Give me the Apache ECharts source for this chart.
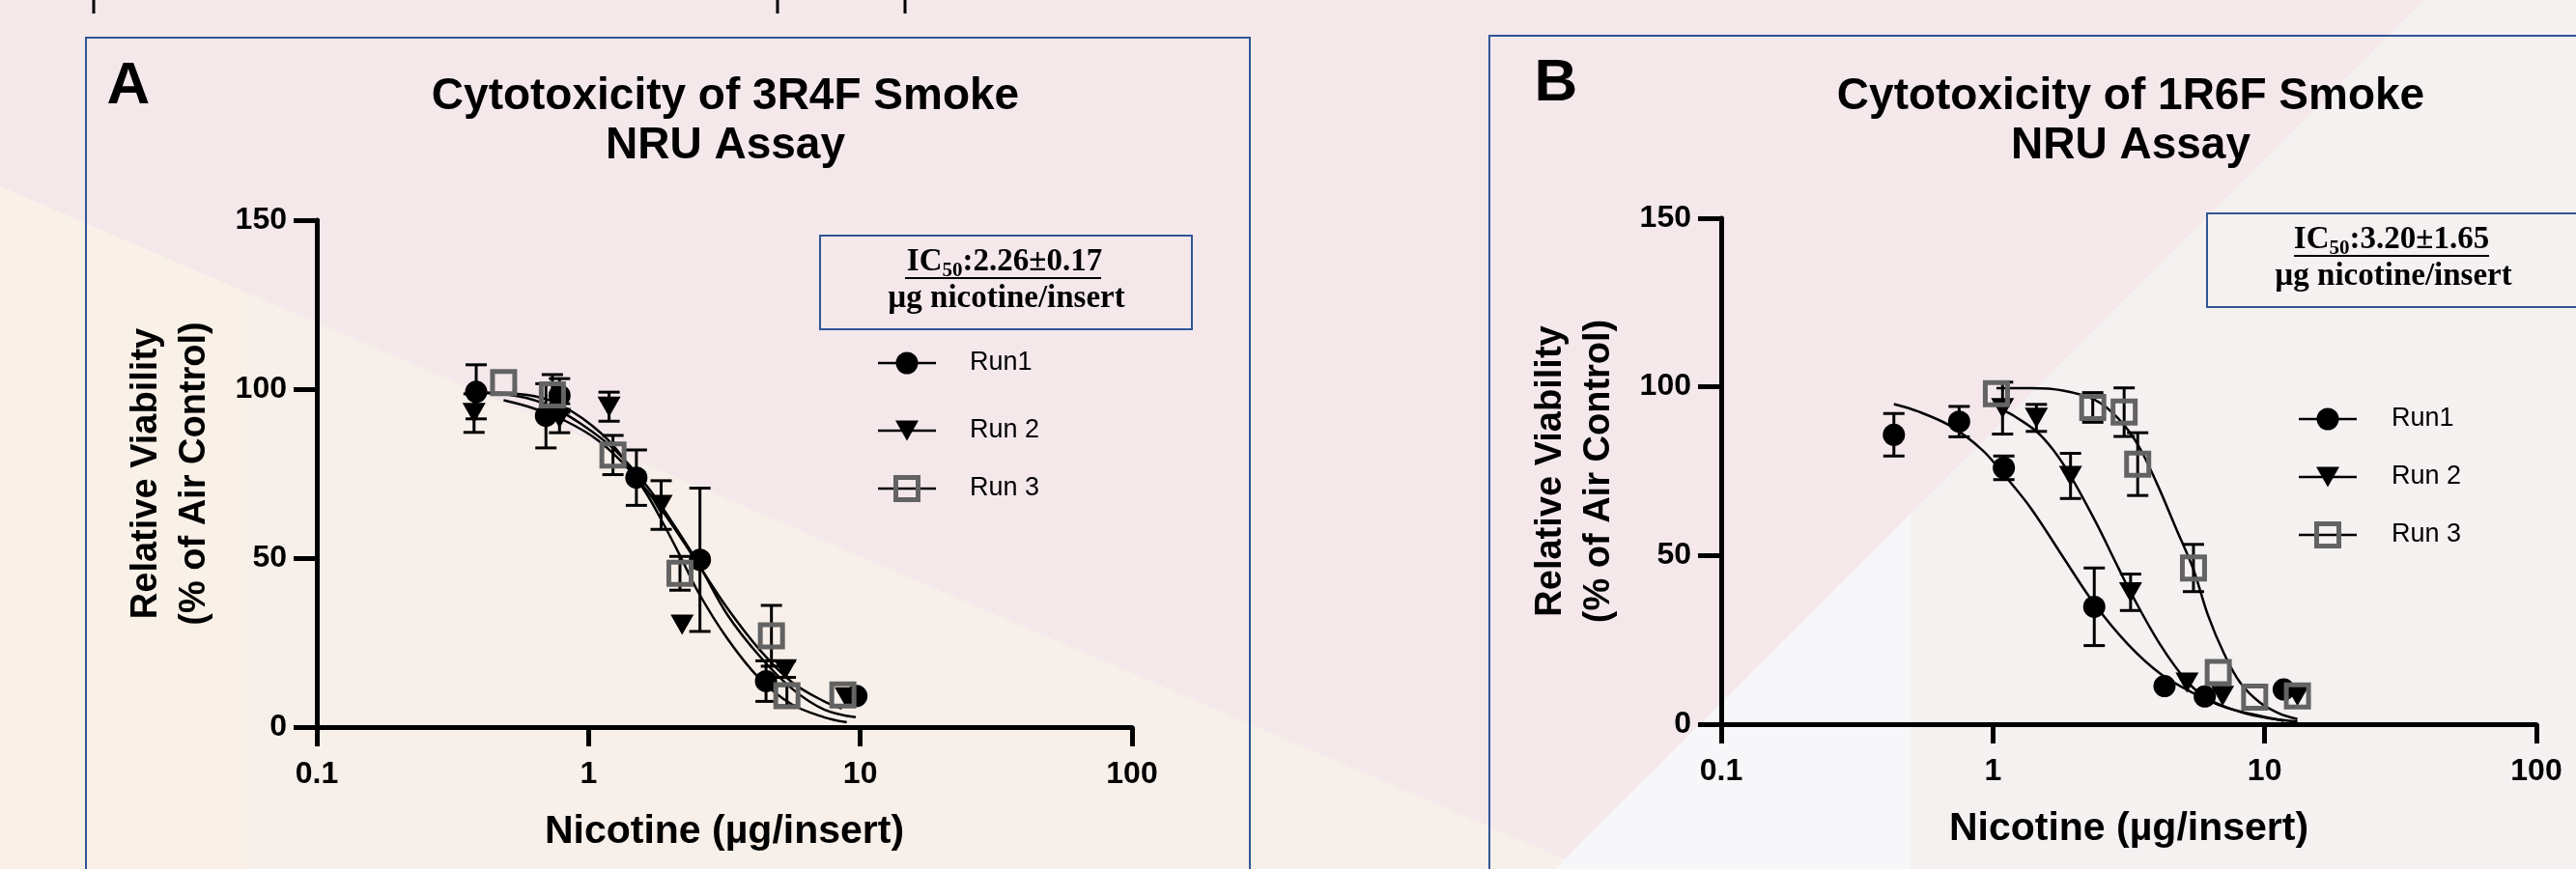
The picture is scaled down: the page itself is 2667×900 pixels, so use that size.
<!DOCTYPE html>
<html>
<head>
<meta charset="utf-8">
<script src="https://cdn.jsdelivr.net/npm/echarts@6/dist/echarts.min.js"></script>
<style>
  html, body { margin: 0; padding: 0; }
  #main { width: 2667px; height: 900px; }
</style>
</head>
<body>
<div id="main"></div>
<script>
// values (dose in µg nicotine/insert, viability in % of air control)
const xTicks = [0.1, 1, 10, 100];
const yTicks = [0, 50, 100, 150];

// panel A: 3R4F
const doseA1 = [0.386, 0.697, 0.782, 1.5, 2.57, 4.5, 9.68];
const viabA1 = [99.2, 92.1, 98.1, 73.8, 49.5, 13.6, 9.2];
const semA1 = [8, 9.5, 5, 8.2, 21.2, 6, 0];
const doseA2 = [0.379, 0.782, 1.19, 1.85, 2.21, 5.3, 8.87];
const viabA2 = [92.9, 91.4, 94.8, 65.7, 30.3, 17.1, 8.8];
const semA2 = [5.7, 4.3, 4.3, 7.2, 0, 2.4, 0];
const doseA3 = [0.487, 0.736, 1.23, 2.17, 4.71, 5.37, 8.63];
const viabA3 = [101.9, 98.3, 80.5, 45.5, 27.0, 9.3, 9.5];
const semA3 = [0, 6, 5.8, 5, 9, 3, 0];

// fitted curves, panel A
const fitXA1 = [0.386, 0.548, 0.72, 0.947, 1.245, 1.636, 2.15, 2.57, 3.24, 4.26, 5.6, 7.36, 9.62];
const fitYA1 = [99.0, 97.9, 95.0, 89.5, 82.1, 71.4, 57.6, 47.6, 33.3, 21.0, 11.4, 5.2, 2.9];
const fitXA2 = [0.379, 0.548, 0.72, 0.947, 1.245, 1.636, 1.876, 2.15, 2.53, 3.24, 4.26, 5.6, 7.36, 8.92];
const fitYA2 = [99.0, 98.6, 96.7, 91.4, 82.9, 69.0, 60.5, 51.4, 40.0, 26.2, 14.3, 6.7, 2.9, 1.4];
const fitXA3 = [0.487, 0.628, 0.826, 1.085, 1.43, 1.876, 2.47, 3.24, 4.26, 5.6, 7.36, 8.55];
const fitYA3 = [96.7, 94.3, 90.5, 84.8, 75.7, 63.8, 49.5, 35.2, 22.9, 13.3, 7.6, 5.5];

// panel B: 1R6F
const doseB1 = [0.432, 0.751, 1.097, 2.36, 4.28, 6.02, 11.75];
const viabB1 = [85.8, 89.7, 76.0, 34.8, 11.3, 8.2, 10.3];
const semB1 = [6.3, 4.5, 3.5, 11.5, 0, 0, 0];
const doseB2 = [1.085, 1.445, 1.93, 3.21, 5.18, 7.0, 13.2];
const viabB2 = [93.7, 90.8, 73.6, 39.1, 12.3, 8.4, 8.4];
const semB2 = [7.7, 4, 6.7, 5.4, 0, 0, 0];
const doseB3 = [1.03, 2.33, 3.04, 3.41, 5.47, 6.75, 9.19, 13.2];
const viabB3 = [98.0, 93.9, 92.5, 77.1, 46.3, 15.3, 8.0, 8.4];
const semB3 = [0, 4.4, 7.2, 9.3, 7, 0, 0, 0];

// fitted curves, panel B
const fitXB1 = [0.432, 0.531, 0.698, 0.916, 1.097, 1.38, 1.81, 2.36, 3.13, 4.11, 5.4, 7.09, 9.31, 11.75];
const fitYB1 = [94.9, 92.7, 88.4, 81.2, 74.0, 64.0, 49.6, 35.7, 23.8, 15.1, 9.4, 5.1, 2.7, 1.0];
const fitXB2 = [1.085, 1.2, 1.445, 1.67, 1.93, 2.38, 2.88, 3.21, 4.11, 5.18, 6.18, 8.13, 10.4, 13.2];
const fitYB2 = [93.2, 91.3, 86.8, 81.2, 73.6, 60.2, 46.7, 39.1, 23.8, 12.7, 7.5, 3.6, 1.7, 0.8];
const fitXB3 = [1.03, 1.38, 1.81, 2.38, 2.88, 3.4, 4.0, 4.71, 5.47, 6.18, 7.09, 8.13, 9.57, 11.3, 13.2];
const fitYB3 = [99.6, 99.6, 98.9, 96.1, 90.8, 83.1, 71.6, 58.2, 45.8, 32.4, 20.9, 12.3, 6.5, 3.2, 1.5];

const runNames = ['Run1', 'Run 2', 'Run 3'];

const SANS = 'Liberation Sans, Arial, sans-serif';
const SERIF = 'Liberation Serif, Times New Roman, serif';
const FRAME = '#2f5597';
const GREY = '#636363';

const markers = [
  { symbol: 'circle', symbolSize: 23, itemStyle: { color: '#000', opacity: 1 } },
  { symbol: 'triangle', symbolSize: [24, 21], symbolRotate: 180, itemStyle: { color: '#000', opacity: 1 } },
  { symbol: 'rect', symbolSize: 23, itemStyle: { color: 'rgba(0,0,0,0)', borderColor: GREY, borderWidth: 5, opacity: 1 } },
];

function errorBars(idx, dose, viab, sem) {
  const data = [];
  dose.forEach((d, i) => {
    if (sem[i] > 0) data.push([d, viab[i] - sem[i], viab[i] + sem[i]]);
  });
  return {
    type: 'custom',
    xAxisIndex: idx,
    yAxisIndex: idx,
    z: 3,
    silent: true,
    data,
    encode: { x: 0, y: [1, 2] },
    renderItem(params, api) {
      const top = api.coord([api.value(0), api.value(2)]);
      const bot = api.coord([api.value(0), api.value(1)]);
      const style = { stroke: '#000', lineWidth: 3 };
      const w = 11;
      return {
        type: 'group',
        children: [
          { type: 'line', shape: { x1: top[0], y1: top[1], x2: bot[0], y2: bot[1] }, style },
          { type: 'line', shape: { x1: top[0] - w, y1: top[1], x2: top[0] + w, y2: top[1] }, style },
          { type: 'line', shape: { x1: bot[0] - w, y1: bot[1], x2: bot[0] + w, y2: bot[1] }, style },
        ],
      };
    },
  };
}

function runSeries(idx, run, dose, viab, sem, fitX, fitY) {
  const m = markers[run];
  return [
    {
      type: 'line',
      name: runNames[run] + ' fit',
      xAxisIndex: idx,
      yAxisIndex: idx,
      data: fitX.map((x, i) => [x, fitY[i]]),
      smooth: 0.35,
      showSymbol: false,
      silent: true,
      z: 2,
      lineStyle: { color: '#000', width: 2.5 },
    },
    errorBars(idx, dose, viab, sem),
    {
      type: 'scatter',
      name: runNames[run],
      xAxisIndex: idx,
      yAxisIndex: idx,
      data: dose.map((d, i) => [d, viab[i]]),
      symbol: m.symbol,
      symbolSize: m.symbolSize,
      symbolRotate: m.symbolRotate || 0,
      itemStyle: m.itemStyle,
      emphasis: { disabled: true },
      z: 4,
    },
  ];
}

function xAxisFor(idx) {
  return {
    type: 'log',
    logBase: 10,
    gridIndex: idx,
    min: xTicks[0],
    max: xTicks[xTicks.length - 1],
    name: 'Nicotine (µg/insert)',
    nameLocation: 'middle',
    nameGap: 88,
    nameTextStyle: { fontSize: 41, fontWeight: 'bold', fontFamily: SANS, color: '#000', lineHeight: 41 },
    axisLine: { lineStyle: { color: '#000', width: 5 } },
    axisTick: { length: 20, lineStyle: { width: 5 } },
    axisLabel: { fontSize: 32, fontWeight: 'bold', fontFamily: SANS, color: '#000', margin: 33 },
    minorTick: { show: false },
    splitLine: { show: false },
  };
}

function yAxisFor(idx) {
  return {
    type: 'value',
    gridIndex: idx,
    min: yTicks[0],
    max: yTicks[yTicks.length - 1],
    interval: 50,
    name: 'Relative Viability\n(% of Air Control)',
    nameLocation: 'middle',
    nameRotate: 90,
    nameGap: 101,
    nameTextStyle: { fontSize: 38, fontWeight: 'bold', fontFamily: SANS, color: '#000', lineHeight: 50 },
    axisLine: { show: true, lineStyle: { color: '#000', width: 5 } },
    axisTick: { show: true, length: 24, lineStyle: { width: 5 } },
    axisLabel: { fontSize: 32, fontWeight: 'bold', fontFamily: SANS, color: '#000', margin: 31 },
    splitLine: { show: false },
  };
}

function legendGraphics(x0, ys, textX) {
  const els = [];
  ys.forEach((y, run) => {
    els.push({ type: 'line', shape: { x1: x0 - 30, y1: y, x2: x0 + 30, y2: y }, style: { stroke: '#000', lineWidth: 2.5 } });
    if (run === 0) {
      els.push({ type: 'circle', shape: { cx: x0, cy: y, r: 11.5 }, style: { fill: '#000' } });
    } else if (run === 1) {
      els.push({ type: 'polygon', shape: { points: [[x0 - 12, y - 10.5], [x0 + 12, y - 10.5], [x0, y + 10.5]] }, style: { fill: '#000' } });
    } else {
      els.push({ type: 'rect', shape: { x: x0 - 11.5, y: y - 11.5, width: 23, height: 23 }, style: { fill: 'none', stroke: GREY, lineWidth: 5 } });
    }
    els.push({
      type: 'text', x: textX, y,
      style: { text: runNames[run], font: '27px ' + SANS, fill: '#000', textAlign: 'left', textVerticalAlign: 'middle' },
    });
  });
  return els;
}

function icBox(left, top, width, cx, ic50, underX1, underX2) {
  return [
    { type: 'rect', shape: { x: left, y: top, width, height: 97 }, style: { fill: 'none', stroke: FRAME, lineWidth: 2 } },
    {
      type: 'text', x: cx, y: top + 27,
      style: {
        text: '{a|IC}{b|50}{a|:' + ic50 + '}',
        textAlign: 'center',
        textVerticalAlign: 'middle',
        rich: {
          a: { fontSize: 33, fontWeight: 'bold', fontFamily: SERIF, color: '#000', lineHeight: 40 },
          b: { fontSize: 21, fontWeight: 'bold', fontFamily: SERIF, color: '#000', lineHeight: 16, verticalAlign: 'bottom' },
        },
      },
    },
    { type: 'line', shape: { x1: underX1, y1: top + 44, x2: underX2, y2: top + 44 }, style: { stroke: '#000', lineWidth: 2 } },
    {
      type: 'text', x: cx + 2, y: top + 65,
      style: { text: 'µg nicotine/insert', font: 'bold 33px ' + SERIF, fill: '#000', textAlign: 'center', textVerticalAlign: 'middle' },
    },
  ];
}

const background = [
  { type: 'polygon', z: -10, silent: true, shape: { points: [[0, 193], [1644, 900], [0, 900]] }, style: { fill: '#f7efe9' } },
  { type: 'polygon', z: -9, silent: true, shape: { points: [[0, 193], [255, 303], [255, 900], [0, 900]] }, style: { fill: '#f9f1e8' } },
  { type: 'polygon', z: -9, silent: true, shape: { points: [[1610, 900], [2510, 0], [2667, 0], [2667, 900]] }, style: { fill: '#f5f1f1' } },
  { type: 'polygon', z: -8, silent: true, shape: { points: [[1610, 900], [1978, 532], [1978, 900]] }, style: { fill: '#f7f6f9' } },
];

const frames = [
  { type: 'rect', shape: { x: 89, y: 39, width: 1205, height: 900 }, style: { fill: 'none', stroke: FRAME, lineWidth: 2 } },
  { type: 'rect', shape: { x: 1542, y: 37, width: 1200, height: 900 }, style: { fill: 'none', stroke: FRAME, lineWidth: 2 } },
  // stubs of the figure above, cut by the page edge
  { type: 'line', shape: { x1: 97, y1: 0, x2: 97, y2: 14 }, style: { stroke: '#000', lineWidth: 3 } },
  { type: 'line', shape: { x1: 805, y1: 0, x2: 805, y2: 14 }, style: { stroke: '#000', lineWidth: 3 } },
  { type: 'line', shape: { x1: 937, y1: 0, x2: 937, y2: 14 }, style: { stroke: '#000', lineWidth: 3 } },
];

const chart = echarts.init(document.getElementById('main'));

const option = {
  animation: false,
  backgroundColor: '#f4e8ea',
  title: [
    { text: 'A', left: 133, top: 58, textAlign: 'center', padding: 0, textStyle: { fontSize: 62, fontWeight: 'bold', fontFamily: SANS, color: '#000', lineHeight: 64 } },
    { text: 'B', left: 1611, top: 55, textAlign: 'center', padding: 0, textStyle: { fontSize: 62, fontWeight: 'bold', fontFamily: SANS, color: '#000', lineHeight: 64 } },
    { text: 'Cytotoxicity of 3R4F Smoke\nNRU Assay', left: 751, top: 75, textAlign: 'center', padding: 0, textStyle: { fontSize: 46, fontWeight: 'bold', fontFamily: SANS, color: '#000', lineHeight: 51 } },
    { text: 'Cytotoxicity of 1R6F Smoke\nNRU Assay', left: 2206, top: 75, textAlign: 'center', padding: 0, textStyle: { fontSize: 46, fontWeight: 'bold', fontFamily: SANS, color: '#000', lineHeight: 51 } },
  ],
  grid: [
    { left: 328, top: 228, width: 844, height: 525 },
    { left: 1782, top: 226, width: 844, height: 524 },
  ],
  xAxis: [xAxisFor(0), xAxisFor(1)],
  yAxis: [yAxisFor(0), yAxisFor(1)],
  series: [
    ...runSeries(0, 0, doseA1, viabA1, semA1, fitXA1, fitYA1),
    ...runSeries(0, 1, doseA2, viabA2, semA2, fitXA2, fitYA2),
    ...runSeries(0, 2, doseA3, viabA3, semA3, fitXA3, fitYA3),
    ...runSeries(1, 0, doseB1, viabB1, semB1, fitXB1, fitYB1),
    ...runSeries(1, 1, doseB2, viabB2, semB2, fitXB2, fitYB2),
    ...runSeries(1, 2, doseB3, viabB3, semB3, fitXB3, fitYB3),
  ],
  graphic: {
    elements: [
      ...background,
      ...frames,
      ...icBox(849, 244, 385, 1040, '2.26±0.17', 937, 1140),
      ...icBox(2285, 221, 400, 2476, '3.20±1.65', 2375, 2577),
      ...legendGraphics(939, [376, 446, 506], 1004),
      ...legendGraphics(2410, [434, 494, 554], 2476),
    ],
  },
};

chart.setOption(option);
</script>
</body>
</html>
